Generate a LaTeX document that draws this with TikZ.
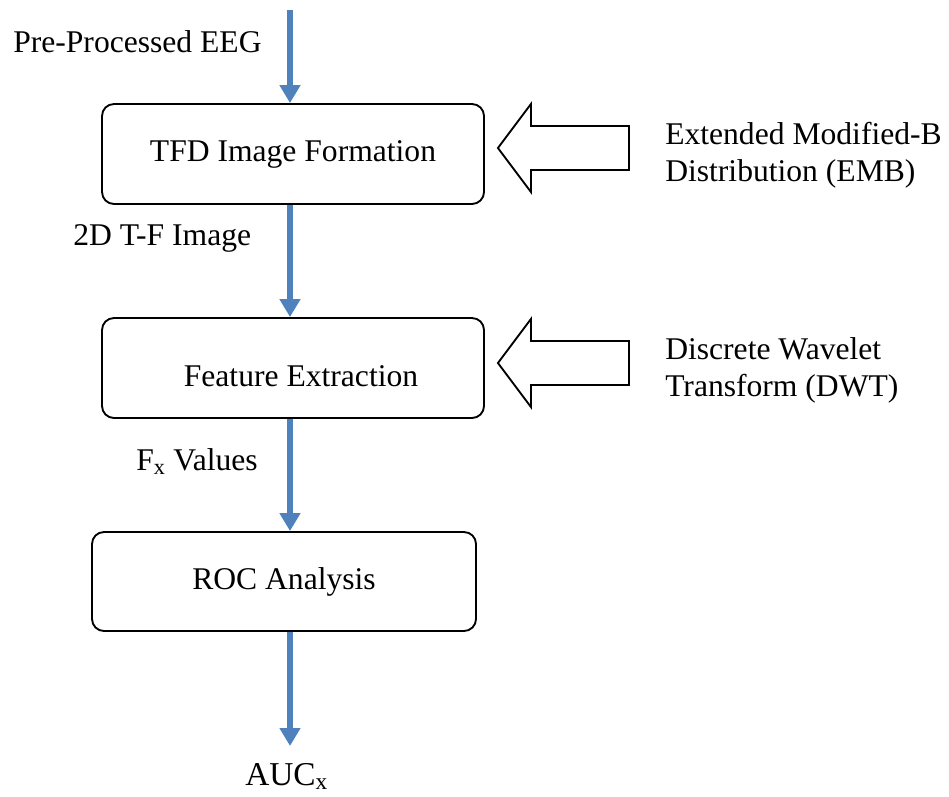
\documentclass[tikz,border=0pt]{standalone}
\usepackage{fontspec}
\setmainfont{Liberation Serif}
\usetikzlibrary{calc, arrows.meta, positioning}
\definecolor{flowblue}{RGB}{79,129,189}

\begin{document}
\begin{tikzpicture}[x=0.75pt,y=-0.75pt, every node/.style={font=\fontsize{23.7pt}{27.8pt}\selectfont, inner sep=0pt},
    stage/.style={draw, line width=1.4pt, rounded corners=9pt, minimum width=286.5pt, minimum height=75pt},
    flow/.style={line width=4.5pt, flowblue, -{Triangle[width=15pt,length=13.5pt]}},
    hollow/.style={draw, line width=1.4pt, fill=white, line join=miter}]
    \useasboundingbox (0,0) rectangle (949,796);
    \node[stage] (tfd) at (293,154) {TFD Image Formation};
    \node[stage] (feat) at (293,368) {\raisebox{-6.5pt}[\height][\depth]{\hspace*{12pt}Feature Extraction}};
    \node[stage, minimum width=288pt, minimum height=74.25pt] (roc) at (284,581.5) {ROC Analysis};
    \node[anchor=base west] (eeg) at (13,52) {Pre-Processed EEG};
    \node[anchor=base west] (tfimg) at (73,245) {2D T-F Image};
    \node[anchor=base west] (fx) at (136,470) {F\textsubscript{x} Values};
    \node[anchor=base west, font=\fontsize{25pt}{30pt}\selectfont] (auc) at (245,785) {AUC\textsubscript{x}};
    \node[anchor=west, align=left] (emb) at (665,155) {Extended Modified-B\\Distribution (EMB)};
    \node[anchor=west, align=left] (dwt) at (665,370) {Discrete Wavelet\\Transform (DWT)};
    \coordinate (src) at (290,10);
    \coordinate (sink) at (290,746);
    \draw[flow] (src) -- (tfd.north -| src);
    \draw[flow] (tfd.south -| src) -- (feat.north -| src);
    \draw[flow] (feat.south -| src) -- (roc.north -| src);
    \draw[flow] (roc.south -| src) -- (sink);
    \draw[hollow] ($(tfd.east)+(13,-6)$) -- ++(33,-44) -- ++(0,22) -- ++(98,0) -- ++(0,44) -- ++(-98,0) -- ++(0,22) -- cycle;
    \draw[hollow] ($(feat.east)+(13,-5)$) -- ++(33,-44) -- ++(0,22) -- ++(98,0) -- ++(0,44) -- ++(-98,0) -- ++(0,22) -- cycle;
\end{tikzpicture}
\end{document}
